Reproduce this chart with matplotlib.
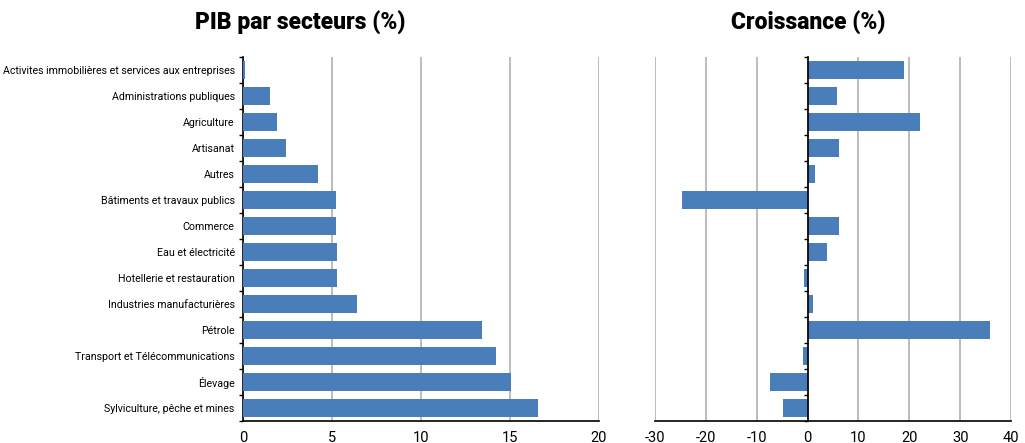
import matplotlib.pyplot as plt
import numpy as np

secteurs = ["Activites immobilières et services aux entreprises",
            "Administrations publiques",
            "Agriculture",
            "Artisanat",
            "Autres",
            "Bâtiments et travaux publics",
            "Commerce",
            "Eau et électricité",
            "Hotellerie et restauration",
            "Industries manufacturières",
            "Pétrole",
            "Transport et Télécommunications",
            "Élevage",
            "Sylviculture, pêche et mines"]
pib = [0.1, 1.5, 1.9, 2.4, 4.2, 5.2, 5.2, 5.3, 5.3, 6.4, 13.4, 14.2, 15.05, 16.6]
croissance = [19.0, 5.85, 22.2, 6.2, 1.5, -24.7, 6.2, 3.9, -0.65, 1.1, 35.9, -0.85, -7.3, -4.8]

bleu = "#4a7ebb"
grille = "#b0b0b0"
plt.rcParams['font.family'] = ['Roboto', 'DejaVu Sans']
plt.rcParams['axes.unicode_minus'] = False

fig = plt.figure(figsize=(10.25, 4.43), dpi=100)
ax1 = fig.add_axes([243/1025, 1-421/443, 356/1025, 364/443])
ax2 = fig.add_axes([655/1025, 1-421/443, 356/1025, 364/443])

y = np.arange(len(secteurs))
bornes = np.arange(len(secteurs) + 1) - 0.5

ax1.barh(y, pib, height=0.73, color=bleu, zorder=3)
ax1.set_xlim(0, 20)
ax1.set_xticks([0, 5, 10, 15, 20])
ax1.set_yticks(y)
ax1.set_yticklabels(secteurs, fontsize=7.7)
ax1.tick_params(axis="y", which="major", length=0, pad=6)

ax2.barh(y, croissance, height=0.73, color=bleu, zorder=3)
ax2.set_xlim(-30, 40)
ax2.set_xticks(range(-30, 41, 10))
ax2.set_yticks([])
ax2.spines["left"].set_position(("data", 0))
ax2.spines["left"].set_zorder(4)

for ax in (ax1, ax2):
    ax.set_ylim(len(secteurs) - 0.5, -0.5)
    ax.set_yticks(bornes, minor=True)
    ax.tick_params(axis="y", which="minor", length=3, width=1)
    ax.grid(axis="x", color=grille, lw=1.2, zorder=0)
    ax.set_axisbelow(True)
    ax.tick_params(axis="x", length=0, labelsize=10.5, pad=7)
    for s in ("top", "right"):
        ax.spines[s].set_visible(False)
    ax.spines["bottom"].set_linewidth(1.2)
    ax.spines["left"].set_linewidth(1.2)

fig.text(300/1025, 1-23/443, "PIB par secteurs (%)", ha="center", va="center",
         fontsize=16.5, fontweight="black")
fig.text(808/1025, 1-23/443, "Croissance (%)", ha="center", va="center",
         fontsize=16.5, fontweight="black")

fig.savefig("out.png", dpi=100)
